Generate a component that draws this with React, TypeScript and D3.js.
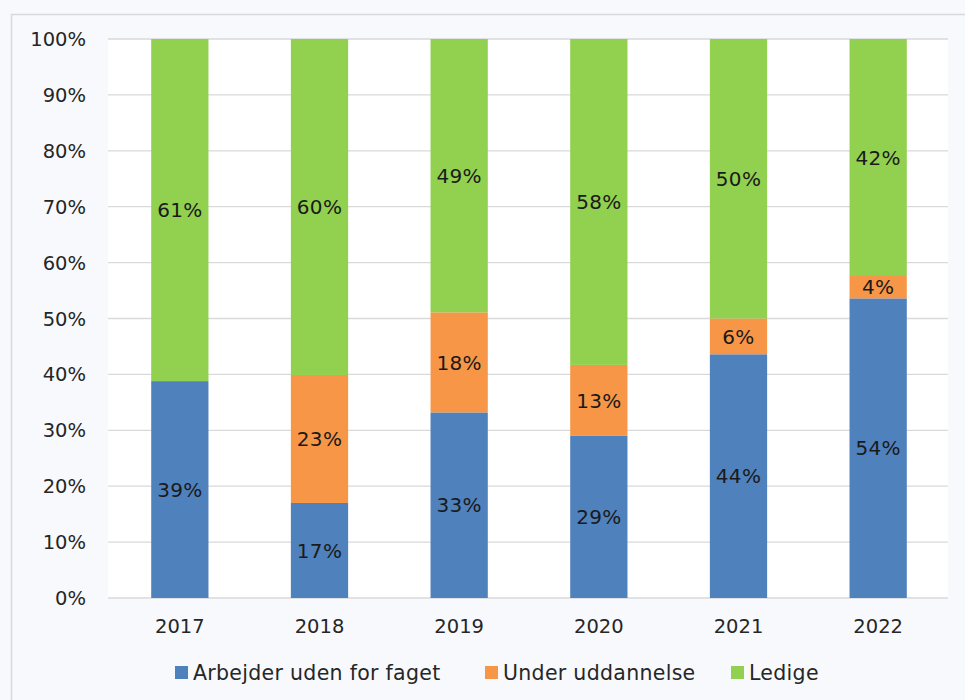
import React from "react";
import * as d3 from "d3";

const years = ["2017", "2018", "2019", "2020", "2021", "2022"];
const arbejder = [38.8, 17.0, 33.2, 29.0, 43.6, 53.6];
const uddannelse = [0, 22.9, 17.9, 12.7, 6.4, 4.0];
const ledige = [61.2, 60.1, 48.9, 58.3, 50.0, 42.4];
const seriesNames = ["Arbejder uden for faget", "Under uddannelse", "Ledige"];
const seriesColors = ["#4f81bd", "#f79646", "#92d050"];
const yTicks = [0, 10, 20, 30, 40, 50, 60, 70, 80, 90, 100];

const W = 965;
const H = 700;
const plot = { left: 108, right: 948, top: 39, bottom: 598 };
const FONT = "'DejaVu Sans', Verdana, sans-serif";

export default function App() {
  const rows = years.map((y, i) => ({
    year: y,
    a: arbejder[i],
    u: uddannelse[i],
    l: ledige[i],
  }));
  const stack = d3.stack<any>().keys(["a", "u", "l"])(rows);
  const x = d3.scaleBand().domain(years).range([plot.left + 2, plot.right]).paddingInner(0.59).paddingOuter(0.295);
  const y = d3.scaleLinear().domain([0, 100]).range([plot.bottom, plot.top]);
  const legendX = [175, 485, 731];

  return (
    <svg width={W} height={H} style={{ position: "absolute", left: 0, top: 0, background: "#f8f9fd" }}>
      <rect x={0} y={0} width={W} height={H} fill="#f8f9fd" />
      <path d={`M11.5,${H} V14.5 H${W}`} fill="none" stroke="#d9d9d9" strokeWidth={1.5} />
      <rect x={plot.left} y={plot.top} width={plot.right - plot.left} height={plot.bottom - plot.top} fill="#ffffff" />
      {yTicks.map((t) => (
        <g key={t}>
          <line x1={plot.left} x2={plot.right} y1={y(t)} y2={y(t)} stroke="#d9d9d9" strokeWidth={1.3} />
          <text x={86} y={y(t)} dy="0.36em" textAnchor="end" fontFamily={FONT} fontSize={19.5} fill="#262626">
            {t}%
          </text>
        </g>
      ))}
      {stack.map((s, si) => (
        <g key={si}>
          {s.map((d, i) => {
            const h = y(d[0]) - y(d[1]);
            if (h <= 0) return null;
            return (
              <rect key={i} x={x(years[i])} y={y(d[1])} width={x.bandwidth()} height={h} fill={seriesColors[si]} />
            );
          })}
          {s.map((d, i) => {
            const v = d[1] - d[0];
            if (v <= 0) return null;
            return (
              <text
                key={"t" + i}
                x={(x(years[i]) as number) + x.bandwidth() / 2}
                y={y((d[0] + d[1]) / 2)}
                dy="0.36em"
                textAnchor="middle"
                fontFamily={FONT}
                fontSize={20}
                letterSpacing={0.3}
                fill="#1a1a1a"
              >
                {Math.round(v)}%
              </text>
            );
          })}
        </g>
      ))}
      {years.map((yr) => (
        <text
          key={yr}
          x={(x(yr) as number) + x.bandwidth() / 2}
          y={633}
          textAnchor="middle"
          fontFamily={FONT}
          fontSize={19.5}
          fill="#262626"
        >
          {yr}
        </text>
      ))}
      {seriesNames.map((n, i) => (
        <g key={n}>
          <rect x={legendX[i]} y={666} width={13} height={13} fill={seriesColors[i]} />
          <text x={legendX[i] + 18} y={679.5} fontFamily={FONT} fontSize={20.5} letterSpacing={0.3} fill="#262626">
            {n}
          </text>
        </g>
      ))}
    </svg>
  );
}
